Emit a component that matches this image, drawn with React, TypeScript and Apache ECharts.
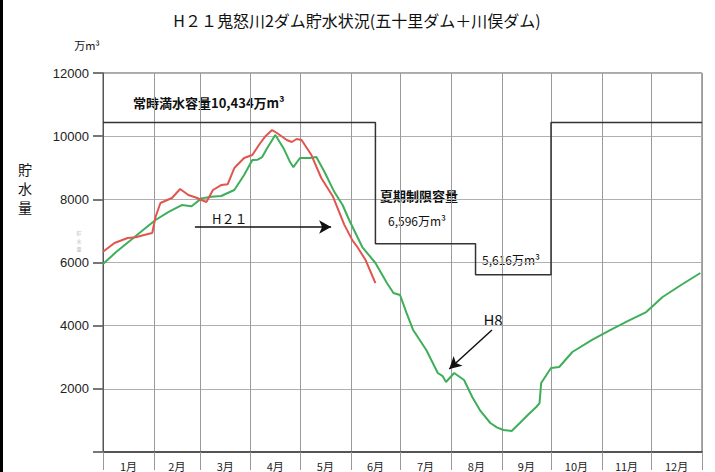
import React, { useEffect, useRef } from "react";
import * as echarts from "echarts";

const monthLabels = ["1月", "2月", "3月", "4月", "5月", "6月", "7月", "8月", "9月", "10月", "11月", "12月"];
const monthStarts = [0, 31, 59, 90, 120, 151, 181, 212, 243, 273, 304, 334, 365];
const yTicks = [0, 2000, 4000, 6000, 8000, 10000, 12000];

// H8 (green) storage, [day of year, 万m3]
const h8Days = [0, 8, 17, 25, 32, 40, 48, 54, 60, 66, 72, 76, 80, 86, 91, 94, 97, 100, 105, 110, 114, 116, 120, 126, 130, 135, 141, 146, 150, 158, 166, 173, 177, 181, 185, 189, 197, 204, 207, 209, 214, 220, 225, 230, 236, 240, 244, 249, 254, 259, 264, 266, 267, 273, 278, 286, 298, 309, 320, 331, 341, 352, 364];
const h8Values = [5950, 6330, 6710, 7050, 7345, 7600, 7820, 7780, 8030, 8080, 8105, 8200, 8295, 8770, 9245, 9250, 9340, 9620, 10036, 9620, 9180, 9020, 9310, 9310, 9340, 8865, 8230, 7820, 7345, 6490, 5984, 5350, 5034, 4970, 4400, 3862, 3229, 2501, 2400, 2216, 2501, 2280, 1741, 1300, 918, 780, 697, 665, 918, 1180, 1425, 1551, 2185, 2660, 2691, 3166, 3550, 3862, 4150, 4432, 4907, 5280, 5667];

// H21 (red) storage
const h21Days = [0, 7, 15, 20, 25, 30, 32, 35, 42, 47, 52, 57, 60, 63, 67, 72, 76, 80, 86, 91, 95, 99, 103, 106, 112, 115, 118, 121, 127, 133, 140, 147, 152, 155, 160, 166];
const h21Values = [6340, 6617, 6775, 6800, 6870, 6933, 7440, 7883, 8042, 8327, 8137, 8050, 7978, 7915, 8295, 8453, 8480, 8991, 9308, 9403, 9720, 10000, 10194, 10100, 9878, 9815, 9910, 9878, 9403, 8675, 8100, 7200, 6700, 6490, 6079, 5350];

// capacity limit step line
const capDays = [0, 166, 166, 227, 227, 273, 273, 365];
const capValues = [10434, 10434, 6596, 6596, 5616, 5616, 10434, 10434];

const FONT = "'Noto Sans CJK JP', 'Noto Sans', sans-serif";

export default function App() {
  const ref = useRef<HTMLDivElement>(null);
  useEffect(() => {
    if (!ref.current) return;
    const chart = echarts.init(ref.current, undefined, { renderer: "svg" });
    const mids = monthStarts.slice(0, 12).map((s, i) => (s + monthStarts[i + 1]) / 2);
    const zip = (a: number[], b: number[]) => a.map((d, i) => [d, b[i]]);
    const vChars = (chars: string[], x: number, y0: number, step: number, size: number, fill: string) =>
      chars.map((c, i) => ({
        type: "text", x, y: y0 + i * step,
        style: { text: c, align: "center", verticalAlign: "middle", fontSize: size, lineHeight: size, fontFamily: FONT, fill },
      }));
    chart.setOption({
      animation: false,
      backgroundColor: "#fff",
      grid: { left: 103, right: 13, top: 73, bottom: 20, show: true, borderColor: "#555", borderWidth: 1 },
      xAxis: {
        type: "value",
        min: 0,
        max: 365,
        axisLine: { show: true, onZero: false, lineStyle: { color: "#555", width: 2 } },
        axisTick: { show: true, customValues: monthStarts, length: 18, lineStyle: { color: "#999" } },
        axisLabel: {
          customValues: mids,
          formatter: (v: number) => {
            const i = mids.findIndex((m) => Math.abs(m - v) < 0.01);
            return i >= 0 ? monthLabels[i] : "";
          },
          margin: 8,
          fontSize: 11,
          color: "#222",
          fontFamily: FONT,
        },
        splitLine: { show: true, lineStyle: { color: "#9a9a9a", width: 1 } },
      },
      yAxis: {
        type: "value",
        min: yTicks[0],
        max: yTicks[yTicks.length - 1],
        interval: 2000,
        axisLine: { show: true, lineStyle: { color: "#555" } },
        axisTick: { show: true, length: 10, lineStyle: { color: "#777", width: 2 } },
        axisLabel: {
          formatter: (v: number) => (v === 0 ? "" : String(v)),
          margin: 14,
          fontSize: 13,
          color: "#222",
          fontFamily: "'Liberation Sans', Arial, sans-serif",
        },
        splitLine: { show: true, lineStyle: { color: "#b0b0b0", width: 1 } },
      },
      series: [
        {
          type: "line",
          data: zip(capDays, capValues),
          symbol: "none",
          lineStyle: { color: "#333", width: 1.5 },
          silent: true,
          markLine: {
            silent: true,
            symbol: ["none", "arrow"],
            symbolSize: [10, 12],
            label: { show: false },
            lineStyle: { color: "#111", width: 1.5, type: "solid" },
            data: [
              [{ coord: [56, 7124] }, { coord: [139, 7124] }],
              [{ coord: [237, 3862] }, { coord: [211, 2628] }],
            ],
          },
        },
        {
          name: "H8",
          type: "line",
          data: zip(h8Days, h8Values),
          symbol: "none",
          lineStyle: { color: "#3fae5a", width: 2 },
        },
        {
          name: "H21",
          type: "line",
          data: zip(h21Days, h21Values),
          symbol: "none",
          lineStyle: { color: "#e0564e", width: 2 },
        },
      ],
      graphic: [
        { type: "rect", shape: { x: 0, y: 0, width: 3, height: 472 }, style: { fill: "#000" } },
        {
          type: "text", x: 357, y: 20,
          style: { text: "H２１鬼怒川2ダム貯水状況(五十里ダム＋川俣ダム)", align: "center", verticalAlign: "middle", fontSize: 16, fontFamily: FONT, fill: "#111" },
        },
        { type: "text", x: 87, y: 45, style: { text: "万m³", align: "center", verticalAlign: "middle", fontSize: 11, fontFamily: FONT, fill: "#111" } },
        ...vChars(["貯", "水", "量"], 25, 169, 19, 14, "#111"),
        ...vChars(["貯", "水", "量"], 79, 232, 8, 5, "#bbb"),
        { type: "text", x: 133, y: 102, style: { text: "常時満水容量10,434万m³", align: "left", verticalAlign: "middle", fontSize: 13, fontWeight: "bold", fontFamily: FONT, fill: "#111" } },
        { type: "text", x: 380, y: 195, style: { text: "夏期制限容量", align: "left", verticalAlign: "middle", fontSize: 13, fontWeight: "bold", fontFamily: FONT, fill: "#111" } },
        { type: "text", x: 388, y: 220, style: { text: "6,596万m³", align: "left", verticalAlign: "middle", fontSize: 12, fontFamily: FONT, fill: "#111" } },
        { type: "text", x: 482, y: 259, style: { text: "5,616万m³", align: "left", verticalAlign: "middle", fontSize: 12, fontFamily: FONT, fill: "#111" } },
        { type: "text", x: 212, y: 218, style: { text: "H２１", align: "left", verticalAlign: "middle", fontSize: 13, fontFamily: FONT, fill: "#111" } },
        { type: "text", x: 493, y: 319, style: { text: "H8", align: "center", verticalAlign: "middle", fontSize: 15, fontFamily: FONT, fill: "#111" } },
      ],
    });
    return () => chart.dispose();
  }, []);
  return <div ref={ref} style={{ position: "fixed", left: 0, top: 0, width: 715, height: 472, background: "#fff" }} />;
}
